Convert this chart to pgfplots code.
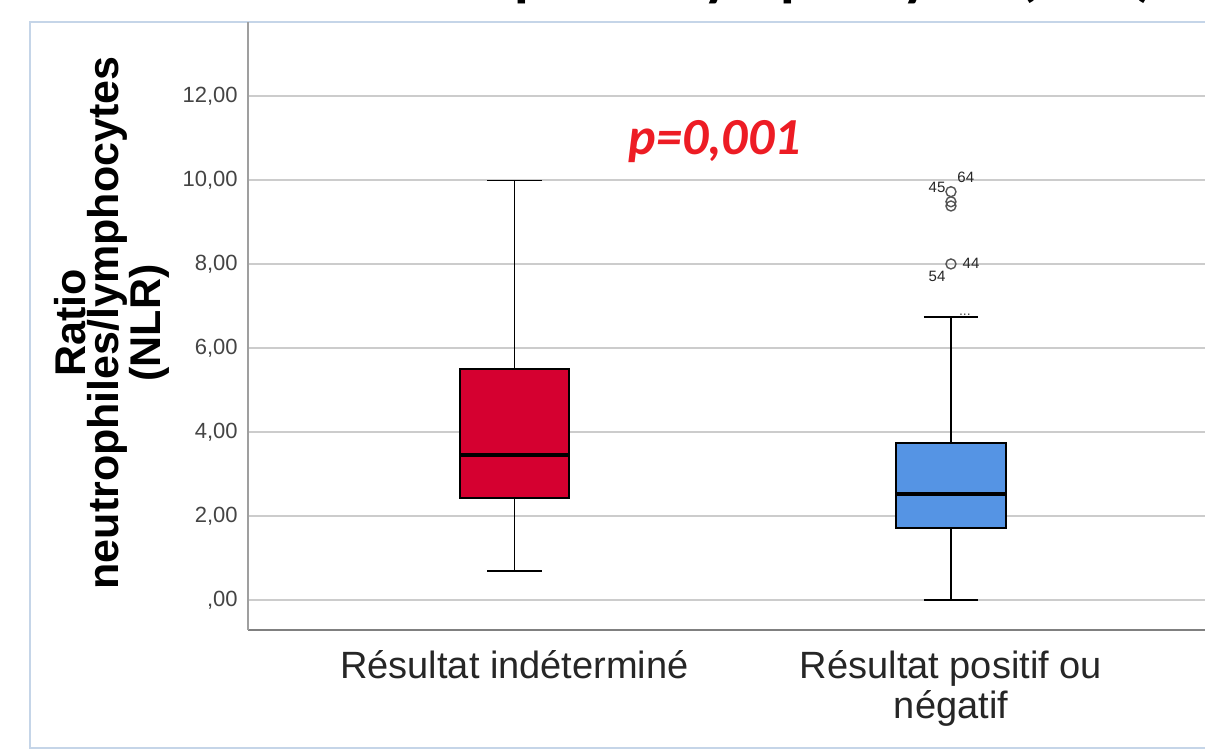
\documentclass[border=0pt]{standalone}
\usepackage{fontspec}
\setmainfont{Liberation Sans}
\newfontfamily\carlito{Carlito}
\usepackage{pgfplots}
\pgfplotsset{compat=1.18}
\usepgfplotslibrary{statistics}
\definecolor{nlrred}{HTML}{D50030}
\definecolor{nlrblue}{HTML}{5594E4}
\definecolor{pred}{HTML}{ED1C24}
\definecolor{frameblue}{HTML}{C5D5E8}
\definecolor{gridgray}{HTML}{CCCCCC}
\definecolor{ticktext}{HTML}{444444}
\definecolor{outl}{HTML}{555555}
\begin{document}
\begin{tikzpicture}
\useasboundingbox (0,0) rectangle (602.5pt,375pt);
% partial title, cut by the top edge as in the reference
\node[anchor=base east, inner sep=0pt, font=\fontsize{30}{30}\selectfont\carlito\bfseries] at (577.5pt,377.5pt) {Ratio neutrophiles/lymphocytes (NLR)};
% outer frame
\draw[frameblue, line width=1pt] (15pt,1pt) rectangle (620pt,364pt);
\begin{axis}[
  at={(124pt,60pt)}, anchor=south west,
  scale only axis, width=478.5pt, height=304pt,
  xmin=0.3895, xmax=2.582,
  ymin=-0.714, ymax=13.76,
  axis x line*=bottom, axis y line*=left,
  x axis line style={-, draw=gray, line width=1.3pt},
  y axis line style={-, draw=gray!75, line width=1pt},
  xtick={1,2},
  xticklabels={{Résultat indéterminé},{Résultat positif ou\\négatif}},
  xticklabel style={align=center, inner sep=0pt, yshift=-10pt, text=black!85,
    font=\fontsize{19}{20}\selectfont},
  ytick={0,2,4,6,8,10,12},
  yticklabels={{,00},{2,00},{4,00},{6,00},{8,00},{10,00},{12,00}},
  yticklabel style={inner sep=0pt, xshift=-5pt, text=ticktext,
    font=\fontsize{11}{11}\selectfont},
  major tick length=0pt,
  ymajorgrids, grid style={gridgray, line width=0.75pt},
  clip=false,
  boxplot/draw direction=y,
]
\addplot[draw=black, line width=0.7pt, fill=nlrred,
  boxplot prepared={lower whisker=0.69, lower quartile=2.43, median=3.45,
    upper quartile=5.5, upper whisker=9.98, draw position=1,
    box extend=0.25, whisker extend=0.124,
    every median/.style={line width=1.8pt}},
  ] coordinates {};
\addplot[draw=black, line width=0.85pt, fill=nlrblue,
  mark=o, mark size=2.5pt, mark options={draw=outl, fill=none, line width=0.7pt},
  boxplot prepared={lower whisker=0.0, lower quartile=1.71, median=2.52,
    upper quartile=3.74, upper whisker=6.74, draw position=2,
    box extend=0.252, whisker extend=0.124,
    every median/.style={line width=2pt}},
  ] coordinates {(2,9.72) (2,9.48) (2,9.38) (2,8.0)};
\node[font=\fontsize{7.5}{7.5}\selectfont, text=black!85, inner sep=0pt] at (axis cs:1.968,9.83) {45};
\node[font=\fontsize{7.5}{7.5}\selectfont, text=black!85, inner sep=0pt] at (axis cs:2.034,10.07) {64};
\node[font=\fontsize{7.5}{7.5}\selectfont, text=black!85, inner sep=0pt] at (axis cs:1.968,7.71) {54};
\node[font=\fontsize{7.5}{7.5}\selectfont, text=black!85, inner sep=0pt] at (axis cs:2.046,8.02) {44};
\node[font=\fontsize{7}{7}\selectfont, text=black!70, inner sep=0pt] at (axis cs:2.032,6.8) {...};
\node[anchor=base, inner sep=0pt, text=pred, font=\fontsize{26}{26}\selectfont\carlito\bfseries\itshape] at (axis cs:1.459,10.6) {p=0,001};
\end{axis}
\node[rotate=90, align=center, inner sep=0pt, font=\fontsize{21.5}{16.8}\selectfont\bfseries] at (56pt,213.5pt) {Ratio\\neutrophiles/lymphocytes\\(NLR)};
\end{tikzpicture}
\end{document}
